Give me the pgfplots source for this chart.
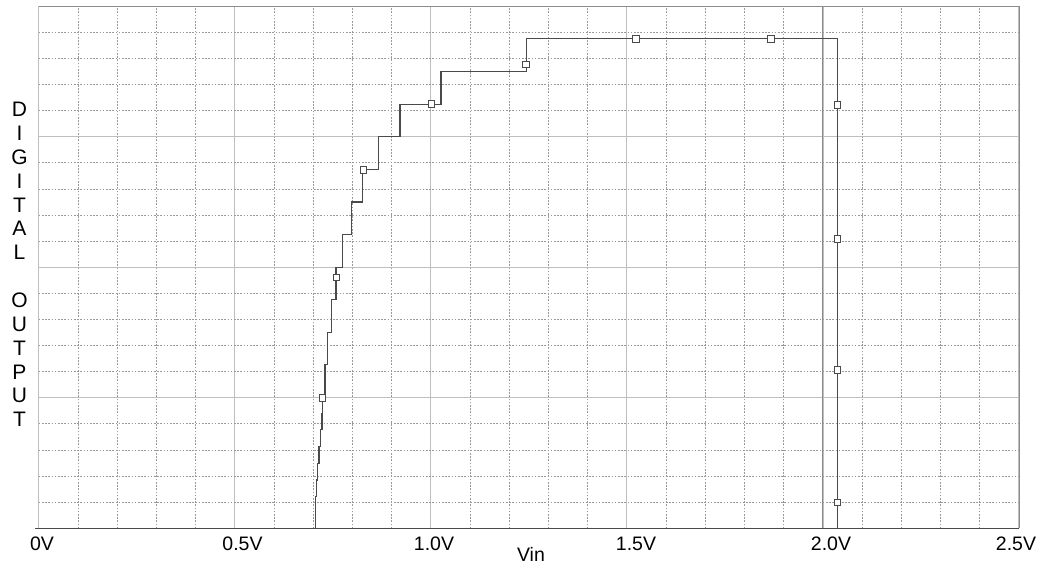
\documentclass[border=0pt]{standalone}
\usepackage{pgfplots}
\pgfplotsset{compat=1.18}
\usepackage{fontspec}
\setmainfont{Liberation Sans}

\definecolor{trace}{HTML}{4A4A4A}
\definecolor{majorgrid}{HTML}{BEBEBE}
\definecolor{minorgrid}{HTML}{9A9A9A}
\definecolor{frame}{HTML}{8C8C8C}

% ADC transfer curve: digital output code (in grid units) versus Vin
\pgfplotstableread{
x y
0.7054 0
0.7054 1.21
0.7090 1.21
0.7090 1.85
0.7115 1.85
0.7115 2.50
0.7149 2.50
0.7149 3.12
0.7192 3.12
0.7192 3.77
0.7225 3.77
0.7225 4.40
0.7243 4.40
0.7243 5.00
0.7302 5.00
0.7302 6.26
0.7360 6.26
0.7360 7.50
0.7473 7.50
0.7473 8.75
0.7582 8.75
0.7582 10.00
0.7743 10.00
0.7743 11.25
0.7983 11.25
0.7983 12.50
0.8253 12.50
0.8253 13.75
0.8661 13.75
0.8661 15.00
0.9214 15.00
0.9214 16.25
1.0260 16.25
1.0260 17.50
1.2446 17.50
1.2446 18.75
2.0377 18.75
2.0377 0
}\trace

% marker positions along the trace
\pgfplotstableread{
x y
0.7243 5.00
0.7595 9.61
0.8278 13.73
1.0023 16.26
1.2428 17.78
1.5233 18.75
1.8676 18.75
2.0377 16.22
2.0377 11.09
2.0377 6.07
2.0377 1.00
}\markers

\begin{document}
\begin{tikzpicture}[x=1pt,y=1pt]
\useasboundingbox (0,0) rectangle (1044,573);
\begin{axis}[
  at={(38.7pt,44.7pt)}, anchor=south west,
  scale only axis, width=980.3pt, height=522pt,
  xmin=0, xmax=2.5, ymin=0, ymax=20,
  xtick={0,0.5,1,1.5,2,2.5}, ytick={0,5,10,15,20},
  minor x tick num=4, minor y tick num=4,
  xticklabels={}, yticklabels={},
  tick style={draw=none},
  grid=both,
  major grid style={majorgrid, line width=1.2pt},
  minor grid style={minorgrid, line width=0.8pt, dash pattern=on 1.6pt off 1.6pt},
  axis line style={draw=none},
  clip=false,
]
% frame
\draw[majorgrid, line width=1.5pt] (rel axis cs:0,0) -- (rel axis cs:0,1);
\draw[frame, line width=1pt] (rel axis cs:0,1) -- (rel axis cs:1,1) -- (rel axis cs:1,0);
\draw[frame, line width=1pt] (axis cs:2,0) -- (axis cs:2,20);
\draw[trace, line width=1.2pt] ([xshift=-3.5pt]rel axis cs:0,0) -- (rel axis cs:1,0);

\addplot[trace, line width=1.1pt, mark=none] table[x=x, y=y] {\trace};
\addplot[only marks, mark=square*, mark size=3.2pt,
  mark options={fill=white, draw=trace, line width=0.9pt}] table[x=x, y=y] {\markers};
\end{axis}

% tick labels on the Vin axis
\begin{scope}[every node/.style={anchor=base, font=\fontsize{19.5}{22}\selectfont}]
\node at (42,23) {0V};
\node at (242.5,23) {0.5V};
\node at (434,23) {1.0V};
\node at (636,23) {1.5V};
\node at (831,23) {2.0V};
\node at (1016,23) {2.5V};
\node at (531,12) {Vin};
\end{scope}

% stacked axis title
\foreach \c/\k in {D/0,I/1,G/2,I/3,T/4,A/5,L/6,O/8,U/9,T/10,P/11,U/12,T/13}
  \node[anchor=base, font=\fontsize{21}{24}\selectfont] at (19.5,{456.3-\k*23.85}) {\c};
\end{tikzpicture}
\end{document}
